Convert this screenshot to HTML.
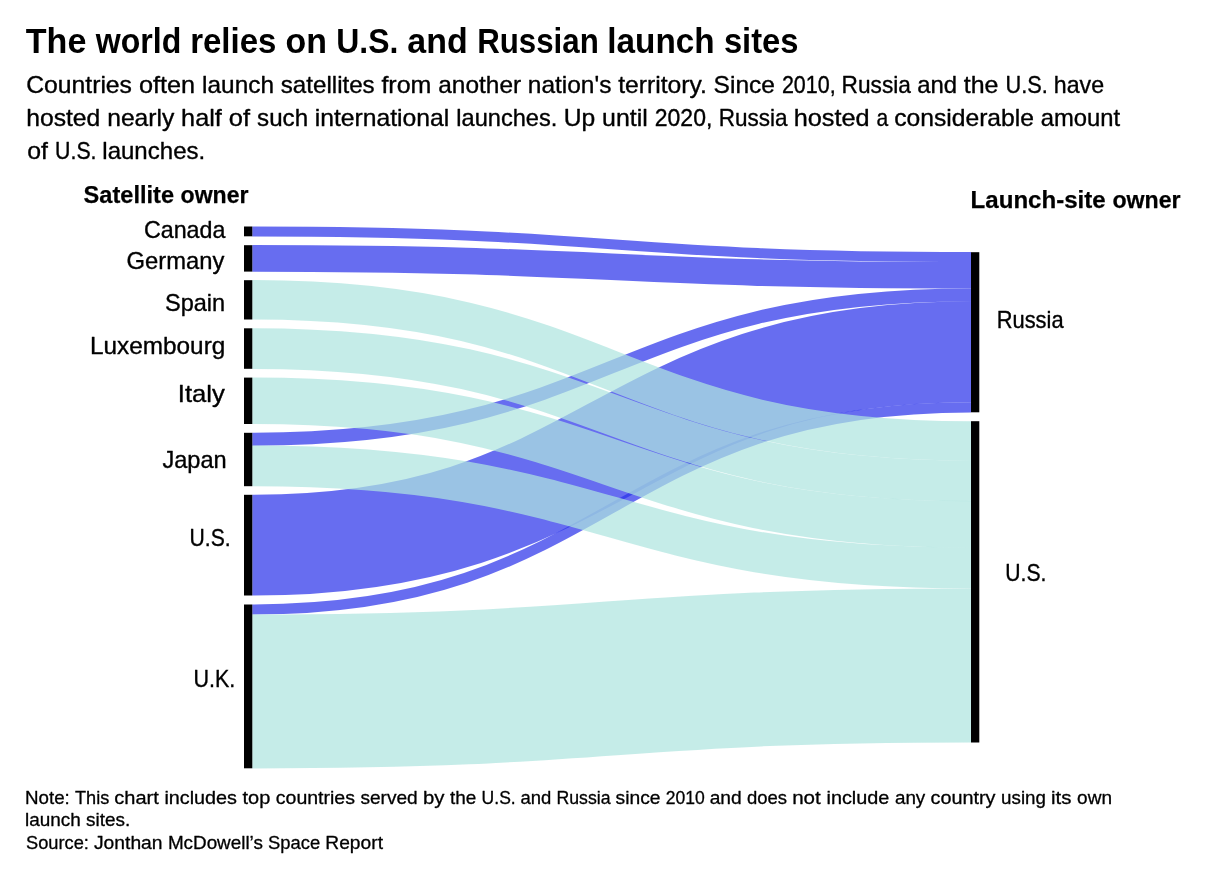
<!DOCTYPE html>
<html lang="en">
<head>
<meta charset="utf-8">
<title>The world relies on U.S. and Russian launch sites</title>
<style>
html,body{margin:0;padding:0;background:#fff;}
body{width:1210px;height:880px;position:relative;overflow:hidden;font-family:"Liberation Sans",Arial,sans-serif;}
</style>
</head>
<body>
<svg width="1210" height="880" viewBox="0 0 1210 880" style="position:absolute;left:0;top:0">
<g fill="none" stroke-opacity="0.72">
<path d="M252.3,231.40C611.6,231.40 611.6,257.11 971.0,257.11" stroke="#2d34ea" stroke-width="10.00"/>
<path d="M252.3,258.40C611.6,258.40 611.6,275.26 971.0,275.26" stroke="#2d34ea" stroke-width="26.60"/>
<path d="M252.3,439.20C611.6,439.20 611.6,294.91 971.0,294.91" stroke="#2d34ea" stroke-width="13.00"/>
<path d="M252.3,545.15C611.6,545.15 611.6,351.80 971.0,351.80" stroke="#2d34ea" stroke-width="100.90"/>
<path d="M252.3,609.50C611.6,609.50 611.6,407.29 971.0,407.29" stroke="#2d34ea" stroke-width="10.20"/>
<path d="M252.3,299.85C611.6,299.85 611.6,440.89 971.0,440.89" stroke="#aee5df" stroke-width="39.50"/>
<path d="M252.3,348.55C611.6,348.55 611.6,480.88 971.0,480.88" stroke="#aee5df" stroke-width="40.70"/>
<path d="M252.3,400.80C611.6,400.80 611.6,524.42 971.0,524.42" stroke="#aee5df" stroke-width="46.60"/>
<path d="M252.3,465.90C611.6,465.90 611.6,568.02 971.0,568.02" stroke="#aee5df" stroke-width="40.80"/>
<path d="M252.3,691.40C611.6,691.40 611.6,665.43 971.0,665.43" stroke="#aee5df" stroke-width="154.00"/>
</g>
<g fill="#000">
<rect x="244.0" y="226.5" width="8.3" height="9.8"/>
<rect x="244.0" y="245.2" width="8.3" height="26.4"/>
<rect x="244.0" y="280.2" width="8.3" height="39.3"/>
<rect x="244.0" y="328.3" width="8.3" height="40.5"/>
<rect x="244.0" y="377.6" width="8.3" height="46.4"/>
<rect x="244.0" y="432.8" width="8.3" height="53.4"/>
<rect x="244.0" y="494.8" width="8.3" height="100.7"/>
<rect x="244.0" y="604.5" width="8.3" height="163.8"/>
<rect x="971.0" y="252.2" width="8.3" height="160.1"/>
<rect x="971.0" y="421.2" width="8.3" height="321.3"/>
</g>
<g font-family="'Liberation Sans', Arial, sans-serif" fill="#000" stroke="#000" stroke-linejoin="round">
<text y="53.0" font-size="35.9" font-weight="700" stroke-width="0"><tspan x="25.8" textLength="60.6" lengthAdjust="spacingAndGlyphs">The</tspan> <tspan x="95.8" textLength="85.5" lengthAdjust="spacingAndGlyphs">world</tspan> <tspan x="190.2" textLength="86.2" lengthAdjust="spacingAndGlyphs">relies</tspan> <tspan x="285.5" textLength="41.4" lengthAdjust="spacingAndGlyphs">on</tspan> <tspan x="336.3" textLength="62.1" lengthAdjust="spacingAndGlyphs">U.S.</tspan> <tspan x="407.3" textLength="60.3" lengthAdjust="spacingAndGlyphs">and</tspan> <tspan x="477.2" textLength="121.6" lengthAdjust="spacingAndGlyphs">Russian</tspan> <tspan x="607.3" textLength="107.3" lengthAdjust="spacingAndGlyphs">launch</tspan> <tspan x="723.9" textLength="74.6" lengthAdjust="spacingAndGlyphs">sites</tspan></text>
<text y="93.0" font-size="23.2" font-weight="400" stroke-width="0.35"><tspan x="26.2" textLength="105.8" lengthAdjust="spacingAndGlyphs">Countries</tspan> <tspan x="138.9" textLength="56.2" lengthAdjust="spacingAndGlyphs">often</tspan> <tspan x="202.1" textLength="71.9" lengthAdjust="spacingAndGlyphs">launch</tspan> <tspan x="280.8" textLength="93.9" lengthAdjust="spacingAndGlyphs">satellites</tspan> <tspan x="381.4" textLength="50.0" lengthAdjust="spacingAndGlyphs">from</tspan> <tspan x="438.3" textLength="82.8" lengthAdjust="spacingAndGlyphs">another</tspan> <tspan x="527.8" textLength="83.6" lengthAdjust="spacingAndGlyphs">nation's</tspan> <tspan x="618.2" textLength="88.6" lengthAdjust="spacingAndGlyphs">territory.</tspan> <tspan x="713.6" textLength="61.3" lengthAdjust="spacingAndGlyphs">Since</tspan> <tspan x="781.9" textLength="53.8" lengthAdjust="spacingAndGlyphs">2010,</tspan> <tspan x="841.6" textLength="69.3" lengthAdjust="spacingAndGlyphs">Russia</tspan> <tspan x="917.2" textLength="39.9" lengthAdjust="spacingAndGlyphs">and</tspan> <tspan x="963.8" textLength="34.7" lengthAdjust="spacingAndGlyphs">the</tspan> <tspan x="1005.6" textLength="42.3" lengthAdjust="spacingAndGlyphs">U.S.</tspan> <tspan x="1053.8" textLength="50.3" lengthAdjust="spacingAndGlyphs">have</tspan></text>
<text y="126.0" font-size="23.2" font-weight="400" stroke-width="0.35"><tspan x="26.2" textLength="74.1" lengthAdjust="spacingAndGlyphs">hosted</tspan> <tspan x="107.2" textLength="67.1" lengthAdjust="spacingAndGlyphs">nearly</tspan> <tspan x="181.1" textLength="40.7" lengthAdjust="spacingAndGlyphs">half</tspan> <tspan x="228.8" textLength="21.2" lengthAdjust="spacingAndGlyphs">of</tspan> <tspan x="257.1" textLength="51.0" lengthAdjust="spacingAndGlyphs">such</tspan> <tspan x="314.7" textLength="134.6" lengthAdjust="spacingAndGlyphs">international</tspan> <tspan x="456.3" textLength="101.0" lengthAdjust="spacingAndGlyphs">launches.</tspan> <tspan x="563.8" textLength="31.5" lengthAdjust="spacingAndGlyphs">Up</tspan> <tspan x="602.1" textLength="45.7" lengthAdjust="spacingAndGlyphs">until</tspan> <tspan x="654.8" textLength="57.5" lengthAdjust="spacingAndGlyphs">2020,</tspan> <tspan x="718.7" textLength="68.8" lengthAdjust="spacingAndGlyphs">Russia</tspan> <tspan x="793.7" textLength="75.9" lengthAdjust="spacingAndGlyphs">hosted</tspan> <tspan x="876.6" textLength="11.7" lengthAdjust="spacingAndGlyphs">a</tspan> <tspan x="894.2" textLength="139.8" lengthAdjust="spacingAndGlyphs">considerable</tspan> <tspan x="1040.8" textLength="79.4" lengthAdjust="spacingAndGlyphs">amount</tspan></text>
<text y="158.7" font-size="23.2" font-weight="400" stroke-width="0.35"><tspan x="27.3" textLength="20.7" lengthAdjust="spacingAndGlyphs">of</tspan> <tspan x="55.1" textLength="41.4" lengthAdjust="spacingAndGlyphs">U.S.</tspan> <tspan x="102.3" textLength="102.9" lengthAdjust="spacingAndGlyphs">launches.</tspan></text>
<text y="803.7" font-size="18.2" font-weight="400" stroke-width="0.3"><tspan x="25.0" textLength="44.8" lengthAdjust="spacingAndGlyphs">Note:</tspan> <tspan x="75.0" textLength="34.3" lengthAdjust="spacingAndGlyphs">This</tspan> <tspan x="114.3" textLength="44.5" lengthAdjust="spacingAndGlyphs">chart</tspan> <tspan x="164.4" textLength="72.6" lengthAdjust="spacingAndGlyphs">includes</tspan> <tspan x="242.5" textLength="27.8" lengthAdjust="spacingAndGlyphs">top</tspan> <tspan x="275.8" textLength="79.2" lengthAdjust="spacingAndGlyphs">countries</tspan> <tspan x="360.4" textLength="57.3" lengthAdjust="spacingAndGlyphs">served</tspan> <tspan x="422.9" textLength="21.5" lengthAdjust="spacingAndGlyphs">by</tspan> <tspan x="450.0" textLength="26.3" lengthAdjust="spacingAndGlyphs">the</tspan> <tspan x="481.6" textLength="34.1" lengthAdjust="spacingAndGlyphs">U.S.</tspan> <tspan x="520.6" textLength="30.8" lengthAdjust="spacingAndGlyphs">and</tspan> <tspan x="556.5" textLength="54.1" lengthAdjust="spacingAndGlyphs">Russia</tspan> <tspan x="615.5" textLength="45.0" lengthAdjust="spacingAndGlyphs">since</tspan> <tspan x="665.8" textLength="39.0" lengthAdjust="spacingAndGlyphs">2010</tspan> <tspan x="709.7" textLength="32.0" lengthAdjust="spacingAndGlyphs">and</tspan> <tspan x="747.0" textLength="40.1" lengthAdjust="spacingAndGlyphs">does</tspan> <tspan x="792.2" textLength="28.6" lengthAdjust="spacingAndGlyphs">not</tspan> <tspan x="826.5" textLength="62.9" lengthAdjust="spacingAndGlyphs">include</tspan> <tspan x="894.9" textLength="30.4" lengthAdjust="spacingAndGlyphs">any</tspan> <tspan x="930.5" textLength="65.0" lengthAdjust="spacingAndGlyphs">country</tspan> <tspan x="1001.1" textLength="44.8" lengthAdjust="spacingAndGlyphs">using</tspan> <tspan x="1051.0" textLength="20.4" lengthAdjust="spacingAndGlyphs">its</tspan> <tspan x="1077.1" textLength="34.9" lengthAdjust="spacingAndGlyphs">own</tspan></text>
<text y="826.3" font-size="18.2" font-weight="400" stroke-width="0.3"><tspan x="25.0" textLength="55.8" lengthAdjust="spacingAndGlyphs">launch</tspan> <tspan x="86.0" textLength="44.2" lengthAdjust="spacingAndGlyphs">sites.</tspan></text>
<text y="848.7" font-size="18.2" font-weight="400" stroke-width="0.3"><tspan x="26.0" textLength="62.9" lengthAdjust="spacingAndGlyphs">Source:</tspan> <tspan x="94.0" textLength="68.5" lengthAdjust="spacingAndGlyphs">Jonthan</tspan> <tspan x="167.9" textLength="95.0" lengthAdjust="spacingAndGlyphs">McDowell’s</tspan> <tspan x="268.1" textLength="52.2" lengthAdjust="spacingAndGlyphs">Space</tspan> <tspan x="325.3" textLength="57.7" lengthAdjust="spacingAndGlyphs">Report</tspan></text>
<text y="202.7" font-size="24.4" font-weight="700" stroke-width="0.25"><tspan x="83.6" textLength="90.4" lengthAdjust="spacingAndGlyphs">Satellite</tspan> <tspan x="180.6" textLength="67.9" lengthAdjust="spacingAndGlyphs">owner</tspan></text>
<text y="207.7" font-size="24.4" font-weight="700" stroke-width="0.25"><tspan x="970.6" textLength="135.1" lengthAdjust="spacingAndGlyphs">Launch-site</tspan> <tspan x="1112.4" textLength="68.2" lengthAdjust="spacingAndGlyphs">owner</tspan></text>
<text y="237.6" font-size="23.6" font-weight="400" stroke-width="0.35"><tspan x="143.9" textLength="81.5" lengthAdjust="spacingAndGlyphs">Canada</tspan></text>
<text y="268.5" font-size="23.6" font-weight="400" stroke-width="0.35"><tspan x="126.6" textLength="97.8" lengthAdjust="spacingAndGlyphs">Germany</tspan></text>
<text y="310.6" font-size="23.6" font-weight="400" stroke-width="0.35"><tspan x="165.0" textLength="60.2" lengthAdjust="spacingAndGlyphs">Spain</tspan></text>
<text y="353.6" font-size="23.6" font-weight="400" stroke-width="0.35"><tspan x="90.0" textLength="135.3" lengthAdjust="spacingAndGlyphs">Luxembourg</tspan></text>
<text y="401.6" font-size="23.6" font-weight="400" stroke-width="0.35"><tspan x="177.8" textLength="47.1" lengthAdjust="spacingAndGlyphs">Italy</tspan></text>
<text y="467.6" font-size="23.6" font-weight="400" stroke-width="0.35"><tspan x="162.4" textLength="64.3" lengthAdjust="spacingAndGlyphs">Japan</tspan></text>
<text y="545.8" font-size="23.6" font-weight="400" stroke-width="0.35"><tspan x="189.6" textLength="41.1" lengthAdjust="spacingAndGlyphs">U.S.</tspan></text>
<text y="686.8" font-size="23.6" font-weight="400" stroke-width="0.35"><tspan x="193.4" textLength="41.8" lengthAdjust="spacingAndGlyphs">U.K.</tspan></text>
<text y="327.6" font-size="23.6" font-weight="400" stroke-width="0.35"><tspan x="996.7" textLength="66.9" lengthAdjust="spacingAndGlyphs">Russia</tspan></text>
<text y="580.7" font-size="23.6" font-weight="400" stroke-width="0.35"><tspan x="1005.3" textLength="41.1" lengthAdjust="spacingAndGlyphs">U.S.</tspan></text>
</g>
</svg>
</body>
</html>
